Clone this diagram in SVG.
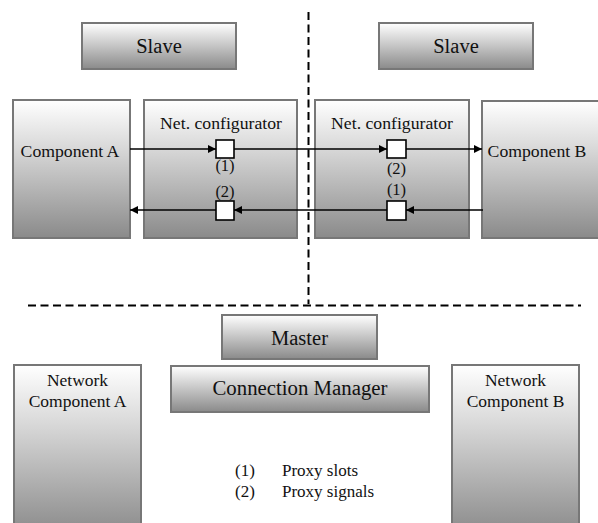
<svg xmlns="http://www.w3.org/2000/svg" width="598" height="523" viewBox="0 0 598 523">
<defs>
<linearGradient id="gShort" x1="0" y1="0" x2="0" y2="1">
<stop offset="0" stop-color="#ffffff"/>
<stop offset="1" stop-color="#8a8a8a"/>
</linearGradient>
<linearGradient id="gTall" x1="0" y1="0" x2="0" y2="1">
<stop offset="0" stop-color="#ffffff"/>
<stop offset="0.35" stop-color="#d8d8d8"/>
<stop offset="1" stop-color="#8a8a8a"/>
</linearGradient>
<marker id="arr" viewBox="0 0 10 10" refX="10" refY="5" markerWidth="10" markerHeight="8" markerUnits="userSpaceOnUse" orient="auto">
<path d="M0,0 L10,5 L0,10 Z" fill="#000"/>
</marker>
<style>
.box{stroke:#777;stroke-width:2;}
.short{fill:url(#gShort);}
.tall{fill:url(#gTall);}
.slot{fill:#fff;stroke:#000;stroke-width:1.6;}
.t{fill:#111;text-anchor:middle;}
.s{text-anchor:start;}
.line{stroke:#000;stroke-width:1.6;fill:none;marker-end:url(#arr);}
.dash{stroke:#000;stroke-width:2;fill:none;stroke-dasharray:8 4.5;}
</style>
</defs>
<g id="dividers">
<line class="dash" x1="308.5" y1="12" x2="308.5" y2="304"/>
<line class="dash" x1="28" y1="305.5" x2="581" y2="305.5"/>
</g>
<g font-family="'Liberation Serif', Tinos, 'Times New Roman', 'DejaVu Serif', serif">
<g id="slave-left"><rect class="box short" x="82" y="23" width="154" height="46"/><text class="t" x="159" y="53" font-size="20.5">Slave</text></g>
<g id="slave-right"><rect class="box short" x="379" y="23" width="154" height="46"/><text class="t" x="456" y="53" font-size="20.5">Slave</text></g>
<g id="component-a"><rect class="box tall" x="13" y="100" width="117" height="138"/><text class="t" x="70" y="157" font-size="17.7">Component A</text></g>
<g id="netconf-left"><rect class="box tall" x="144" y="100" width="153" height="138"/><text class="t" x="221" y="129" font-size="17.7">Net. configurator</text></g>
<g id="netconf-right"><rect class="box tall" x="315" y="100" width="154" height="138"/><text class="t" x="392" y="129" font-size="17.7">Net. configurator</text></g>
<g id="component-b"><rect class="box tall" x="482" y="101" width="117" height="137"/><text class="t" x="537" y="157" font-size="17.7">Component B</text></g>
<g id="connectors">
<line class="line" x1="130" y1="149" x2="216" y2="149"/>
<line class="line" x1="234" y1="149" x2="387" y2="149"/>
<line class="line" x1="406" y1="149" x2="482" y2="149"/>
<line class="line" x1="483" y1="210" x2="406" y2="210"/>
<line class="line" x1="387" y1="210" x2="234" y2="210"/>
<line class="line" x1="216" y1="210" x2="130" y2="210"/>
</g>
<g id="slot-l1"><rect class="slot" x="216" y="140" width="18" height="18"/><text class="t" x="225" y="171" font-size="16.5">(1)</text></g>
<g id="signal-l2"><rect class="slot" x="216" y="201" width="18" height="19"/><text class="t" x="225" y="197" font-size="16.5">(2)</text></g>
<g id="signal-r2"><rect class="slot" x="387" y="140" width="19" height="18"/><text class="t" x="396.5" y="174" font-size="16.5">(2)</text></g>
<g id="slot-r1"><rect class="slot" x="387" y="201" width="19" height="19"/><text class="t" x="396.5" y="195" font-size="16.5">(1)</text></g>
<g id="master"><rect class="box short" x="222" y="315" width="155" height="44"/><text class="t" x="299.5" y="345" font-size="20.5">Master</text></g>
<g id="connection-manager"><rect class="box short" x="171" y="366" width="258" height="46"/><text class="t" x="300" y="395" font-size="20.8">Connection Manager</text></g>
<g id="network-a"><rect class="box tall" x="14" y="365" width="127" height="170"/><text class="t" x="77.5" y="386" font-size="17.5">Network</text><text class="t" x="77.5" y="407" font-size="17.5">Component A</text></g>
<g id="network-b"><rect class="box tall" x="452" y="365" width="127" height="170"/><text class="t" x="515.5" y="386" font-size="17.5">Network</text><text class="t" x="515.5" y="407" font-size="17.5">Component B</text></g>
<g id="legend">
<text class="t" x="245" y="476" font-size="17">(1)</text><text class="t s" x="282" y="476" font-size="17">Proxy slots</text>
<text class="t" x="245" y="497" font-size="17">(2)</text><text class="t s" x="282" y="497" font-size="17">Proxy signals</text>
</g>
</g>
</svg>
